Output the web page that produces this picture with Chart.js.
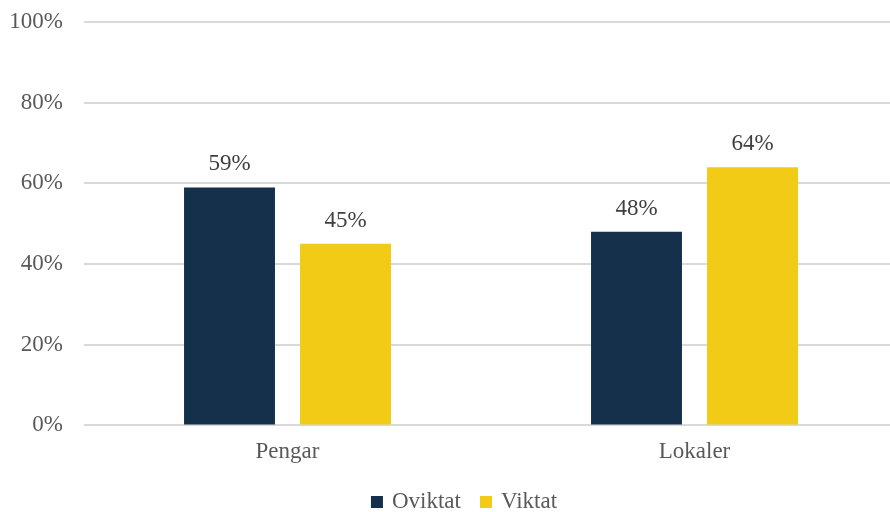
<!DOCTYPE html>
<html>
<head>
<meta charset="utf-8">
<script src="https://cdn.jsdelivr.net/npm/chart.js@4.4.0/dist/chart.umd.min.js"></script>
<style>
    html, body { margin: 0; padding: 0; background: #fff; overflow: hidden; }
    #wrap { width: 898px; height: 512px; position: relative; }
</style>
</head>
<body>
<div id="wrap"><canvas id="myChart"></canvas></div>
<script>
"use strict";

var categories = ['Pengar', 'Lokaler'];
var oviktat = [59, 48];
var viktat = [45, 64];
var seriesNames = ['Oviktat', 'Viktat'];

var FONT = '"Liberation Serif", "Times New Roman", serif';

// Draw value labels above each bar
var valueLabels = {
    id: 'valueLabels',
    afterDatasetsDraw: function (chart) {
        var ctx = chart.ctx;
        ctx.save();
        ctx.font = '23px ' + FONT;
        ctx.fillStyle = '#404040';
        ctx.textAlign = 'center';
        ctx.textBaseline = 'alphabetic';
        chart.data.datasets.forEach(function (ds, i) {
            chart.getDatasetMeta(i).data.forEach(function (bar, j) {
                ctx.fillText(ds.data[j] + '%', bar.x, bar.y - 17);
            });
        });
        ctx.restore();
    }
};

// Simple legend at the bottom (Excel look: small squares, serif text)
var bottomLegend = {
    id: 'bottomLegend',
    afterDraw: function (chart) {
        var ctx = chart.ctx;
        ctx.save();
        ctx.font = '23px ' + FONT;
        ctx.textBaseline = 'middle';
        ctx.textAlign = 'left';
        var box = 12, gap = 9, spacing = 19;
        var items = chart.data.datasets.map(function (ds) {
            return { text: ds.label, color: ds.backgroundColor, w: box + gap + ctx.measureText(ds.label).width };
        });
        var total = items.reduce(function (s, it) { return s + it.w; }, 0) + spacing * (items.length - 1);
        var x = (chart.chartArea.left + chart.chartArea.right) / 2 - 27 - total / 2;
        var y = chart.height - 10;
        items.forEach(function (it) {
            ctx.fillStyle = it.color;
            ctx.fillRect(x, y - box / 2, box, box);
            ctx.fillStyle = '#595959';
            ctx.fillText(it.text, x + box + gap, y);
            x += it.w + spacing;
        });
        ctx.restore();
    }
};

var ctx = document.getElementById('myChart').getContext('2d');
var myChart = new Chart(ctx, {
    type: 'bar',
    data: {
        labels: categories,
        datasets: [{
            label: seriesNames[0],
            data: oviktat,
            backgroundColor: '#14304b',
            borderWidth: 0
        }, {
            label: seriesNames[1],
            data: viktat,
            backgroundColor: '#f1cb16',
            borderWidth: 0
        }]
    },
    options: {
        responsive: true,
        maintainAspectRatio: false,
        animation: false,
        layout: { padding: { top: 22, right: 0, bottom: 33, left: 0 } },
        datasets: {
            bar: { categoryPercentage: 0.57, barPercentage: 0.784 }
        },
        scales: {
            x: {
                grid: { display: false, drawTicks: false },
                border: { display: false },
                ticks: { color: '#595959', font: { family: FONT, size: 23 }, padding: 13 }
            },
            y: {
                min: 0,
                max: 100,
                afterFit: function (scale) {
                    scale.width = 84;
                    scale.paddingTop = 0;
                    scale.paddingBottom = 0;
                },
                grid: { color: '#d9d9d9', lineWidth: 2, drawTicks: false },
                border: { display: false },
                ticks: {
                    stepSize: 20,
                    padding: 21,
                    color: '#595959',
                    font: { family: FONT, size: 23 },
                    callback: function (v) { return v + '%'; }
                }
            }
        },
        plugins: {
            tooltip: { enabled: false },
            legend: { display: false }
        }
    },
    plugins: [valueLabels, bottomLegend]
});
</script>
</body>
</html>
